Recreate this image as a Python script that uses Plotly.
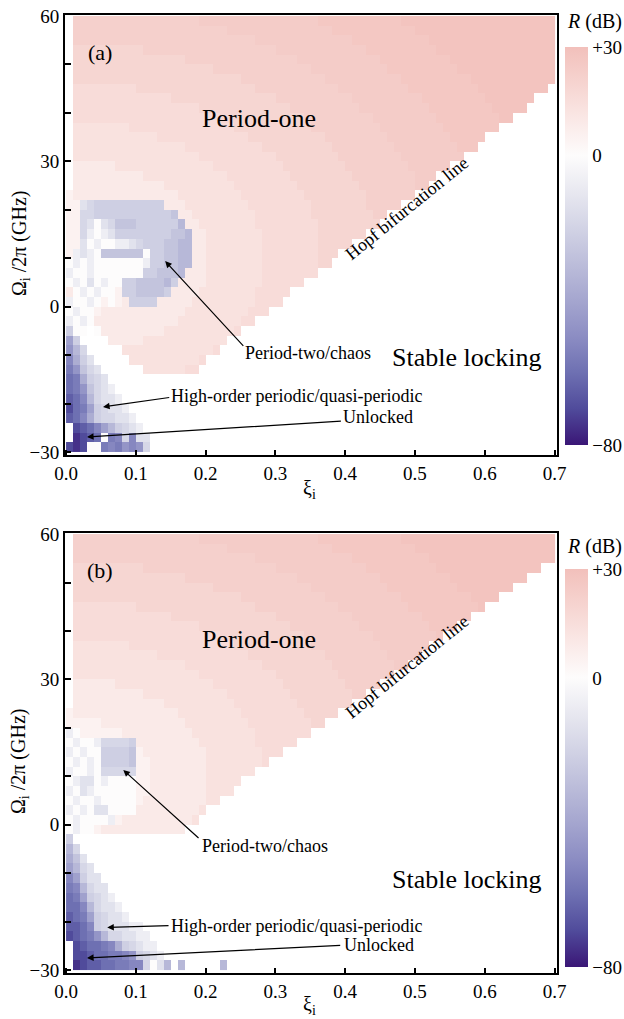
import plotly.graph_objects as go

# ---------------- data ----------------
# cell centres of the map
XI = [round(0.005 + 0.01 * i, 3) for i in range(70)]          # xi_i
OMEGA_TOP_DOWN = [59 - 2 * k for k in range(45)]                # Omega_i/2pi (GHz)

# level codes -> R (dB) ; "." = stable locking (no value)
CODE_DB = {'0': 0, '1': 5, '2': 9, '3': 13, '4': 16, '5': 19, '6': 22, '7': 24,
           '8': 26, '9': 28,
           'a': -7, 'b': -13, 'c': -18, 'd': -22, 'e': -27, 'f': -32, 'g': -37,
           'h': -42, 'i': -47, 'j': -52, 'k': -56, 'l': -60, 'm': -65,
           'n': -70, 'o': -75, 'p': -80}

# rows, top (59 GHz) to bottom (-29 GHz); "x*n" = n cells
ROWS_A = [
    ". 6*18 7*17 8*12 9*22",
    ". 6*22 7*15 8*12 9*20",
    ". 6*26 7*14 8*11 9*18",
    ". 5*10 6*19 7*13 8*10 9*17",
    ". 5*16 6*16 7*12 8*10 9*15",
    ". 5*20 6*14 7*11 8*10 9*14",
    ". 5*24 6*12 7*11 8*10 9*12",
    ". 4*9 5*17 6*12 7*10 8*10 9*10",
    ". 4*14 5*15 6*11 7*10 8*9 9*7",
    ". 4*18 5*13 6*10 7*10 8*9 9*5",
    ". 4*21 5*12 6*10 7*9 8*9 9*2",
    ". 3*8 4*15 5*11 6*10 7*9 8*8",
    ". 3*12 4*13 5*11 6*9 7*9 8*5",
    ". 3*16 4*11 5*10 6*9 7*9 8*3",
    ". 3*18 4*11 5*9 6*9 7*9",
    ". 2*6 3*14 4*10 5*9 6*9 7*6",
    ". 2*10 3*12 4*9 5*9 6*9 7*3",
    ". 2*13 3*10 4*9 5*9 6*8 7*2",
    "1 2*15 3*9 4*9 5*9 6*7",
    "1*2 b c d*10 2*3 3*9 4*9 5*8 6*5",
    "1*2 c*2 d*11 e 2*2 3*9 4*8 5*9 6*2",
    "1*2 c b 0 b c e*3 d*6 f 2*2 3*8 4*9 5*9",
    "1*2 c a 0 a b d*8 e e f 2*2 3*8 4*8 5*7",
    "1*2 b 0 a 0 0 a a b c d*3 e e f f 2*2 3*8 4*8 5*5",
    "1 a b a 0 e*6 0 d d e e f f 2*2 3*8 4*8 5*3",
    "0 a 0 a 0*7 a d d e e f f 2*2 3*8 4*8 5*2",
    "a 0 0 a 0*7 d*2 e*3 f 2*3 3*8 4*8",
    "0 a 0 b 0 a 0 0 d*2 e*4 f d 2*4 3*8 4*6",
    "2 0 a 0 a 0 0 1 d*2 e*4 d 2*4 3*8 4*5",
    "a 0 0 a 0 1 0 1 2 d*4 2*5 3*9 4*4",
    "0 a 0 0 1 2*12 3*9 4*3",
    "a 0 a 0 2*12 3*9 4*2",
    "d 0 0 . 0 2*9 3*10 4",
    "h d .*4 2*5 3*12",
    "i f c .*5 3*13 4",
    "j g d b .*5 3*10 4",
    "k i e c b .*6 3*6 4*2",
    "l k g d c b",
    "l k i e c b a",
    "m l j f c b b a",
    "n l k h d c b b a",
    "m l j g d c c b b a",
    ". n m l j h f d c b a",
    ". o n m l 0 k j c j b b",
    "n o n 0 0 k j k i j i c",
]

# rows
ROWS_B = [
    ". 6*18 7*17 8*12 9*22",
    ". 6*22 7*15 8*12 9*20",
    ". 6*26 7*14 8*11 9*18",
    ". 5*10 6*19 7*13 8*10 9*15",
    ". 5*16 6*16 7*12 8*10 9*11",
    ". 5*20 6*14 7*11 8*10 9*8",
    ". 5*24 6*12 7*11 8*10 9*4",
    ". 4*9 5*17 6*12 7*10 8*10 9",
    ". 4*14 5*15 6*11 7*10 8*7",
    ". 4*18 5*13 6*10 7*10 8*4",
    ". 4*21 5*12 6*10 7*9 8",
    ". 3*8 4*15 5*11 6*10 7*7",
    ". 3*12 4*13 5*11 6*9 7*5",
    ". 3*16 4*11 5*10 6*9 7*2",
    ". 3*18 4*11 5*9 6*8",
    ". 2*6 3*14 4*10 5*9 6*5",
    ". 2*10 3*12 4*9 5*9 6*2",
    ". 2*13 3*10 4*9 5*8",
    "1 2*15 3*9 4*9 5*5",
    "1*5 2*12 3*9 4*9 5*2",
    "a 0 1*6 2*10 3*9 4*8",
    "0 a 0 0 a c*4 d 2*9 3*8 4*6",
    "a 0 a 0 0 d*4 e 1 2*9 3*8 4*3",
    "0 a 0 a 0 d*4 e 1*2 2*8 3*8 4",
    "a 0 0 a 0 c*5 1*2 2*8 3*7",
    "0 a b b 0 a 0*4 1*2 2*8 3*5",
    "a 0 b a 0*6 1*2 2*8 3*4",
    "0 a 0 0 a 0*5 1 2*9 3*2",
    "a 0 a 0 b b 0*4 2*9 3",
    "0 a 0*4 a 1 2*10 3",
    "0 a 0 0 1 2*12",
    "d",
    "f c",
    "g e b",
    "h f c b",
    "j h d b b",
    "k j f c b b",
    "l k h d c b a",
    "l l j f c b b a",
    "m l k h d c b b a",
    "m m l j d c b b b a a",
    "n m l k i f c c b b a a",
    ". n m l l k j g d c b a a",
    ". n n m l l k k j i d c b a",
    ". o n m m l l k k j j c 0 b f . f .*5 f",
]

CBAR_TICKS = [30, 0, -80]
CBAR_TEXT = ['+30', '0', '\u221280']
X_TICKS = [0.0, 0.1, 0.2, 0.3, 0.4, 0.5, 0.6, 0.7]
X_TEXT = ['0.0', '0.1', '0.2', '0.3', '0.4', '0.5', '0.6', '0.7']
Y_TICKS = [-30, -20, -10, 0, 10, 20, 30, 40, 50, 60]
Y_TEXT = ['\u221230', '', '', '0', '', '', '30', '', '', '60']

COLORSCALE = [
    [0.0, 'rgb(58,22,118)'],
    [0.0909, 'rgb(80,75,155)'],
    [0.1818, 'rgb(110,112,178)'],
    [0.2727, 'rgb(140,141,195)'],
    [0.3636, 'rgb(165,166,207)'],
    [0.4545, 'rgb(188,189,218)'],
    [0.5455, 'rgb(210,211,229)'],
    [0.6364, 'rgb(232,232,240)'],
    [0.7273, 'rgb(253,252,252)'],
    [0.8182, 'rgb(250,232,230)'],
    [0.9091, 'rgb(246,212,208)'],
    [1.0, 'rgb(242,192,187)'],
]


def expand(row):
    out = ''
    for tok in row.split():
        if '*' in tok:
            ch, n = tok.split('*')
            out += ch * int(n)
        else:
            out += tok
    out = (out + '.' * 70)[:70]
    return out


def to_z(rows):
    z = [[CODE_DB.get(ch) for ch in expand(r)] for r in rows]
    return z[::-1]


OMEGA = OMEGA_TOP_DOWN[::-1]
FONT = 'Liberation Serif'

fig = go.Figure()

for rows, xa, ya, cy in [(ROWS_A, 'x', 'y', 0.759), (ROWS_B, 'x2', 'y2', 0.2135)]:
    fig.add_trace(go.Heatmap(
        x=XI, y=OMEGA, z=to_z(rows), xaxis=xa, yaxis=ya,
        zmin=-80, zmax=30, colorscale=COLORSCALE, hoverongaps=False,
        colorbar=dict(x=1.0162, xanchor='left', xpad=0, ypad=0,
                      y=cy, yanchor='middle', len=398, lenmode='pixels',
                      thickness=23, outlinewidth=0, ticks='',
                      tickvals=CBAR_TICKS, ticktext=CBAR_TEXT,
                      tickfont=dict(family=FONT, size=19, color='black')),
    ))

axis_common = dict(showline=True, linewidth=2, linecolor='black', mirror=True,
                   showgrid=False, zeroline=False, ticks='inside',
                   tickcolor='black', tickwidth=1.5,
                   tickfont=dict(family=FONT, size=19, color='black'))

fig.update_layout(
    width=624, height=1019,
    margin=dict(l=65, r=66, t=6, b=46),
    paper_bgcolor='white', plot_bgcolor='white',
    showlegend=False,
    xaxis=dict(domain=[0, 1], anchor='y', range=[-0.0015, 0.7035],
               tickvals=X_TICKS, ticktext=X_TEXT, ticklen=5, **axis_common),
    yaxis=dict(domain=[0.5408, 1], anchor='x', range=[-30.6, 60.2],
               tickvals=Y_TICKS, ticktext=Y_TEXT, ticklen=6, **axis_common),
    xaxis2=dict(domain=[0, 1], anchor='y2', range=[-0.0015, 0.7035],
                tickvals=X_TICKS, ticktext=X_TEXT, ticklen=5, **axis_common),
    yaxis2=dict(domain=[0, 0.4592], anchor='x2', range=[-30.6, 60.2],
                tickvals=Y_TICKS, ticktext=Y_TEXT, ticklen=6, **axis_common),
)

ann = []


def txt(x, y, s, size, xr, yr, angle=0, xanchor='center'):
    ann.append(dict(x=x, y=y, xref=xr, yref=yr, text=s, showarrow=False,
                    textangle=angle, xanchor=xanchor, yanchor='middle',
                    font=dict(family=FONT, size=size, color='black')))


def arrow(x, y, ax, ay, xr, yr):
    ann.append(dict(x=x, y=y, ax=ax, ay=ay, xref=xr, yref=yr, axref=xr, ayref=yr,
                    text='', showarrow=True, arrowhead=2, arrowsize=1.1,
                    arrowwidth=1.2, arrowcolor='black', standoff=0, startstandoff=0))


panels = [
    dict(xr='x', yr='y', lab='(a)', p1=38.8, hopf=(0.489, 20.3), p2t=(0.346, -9.6),
         p2a=(0.142, 9.4, 0.256, -8.4), st=(0.574, -10.5), hot=(0.33, -18.4),
         hoa=(0.053, -20.7, 0.150, -18.7), ut=(0.447, -22.7),
         ua=(0.030, -26.9, 0.396, -23.6)),
    dict(xr='x2', yr='y2', lab='(b)', p1=38.3, hopf=(0.488, 32.6), p2t=(0.285, -4.4),
         p2a=(0.082, 11.3, 0.192, -3.0), st=(0.574, -11.2), hot=(0.33, -20.8),
         hoa=(0.059, -21.2, 0.149, -20.8), ut=(0.448, -24.9),
         ua=(0.030, -27.5, 0.395, -24.9)),
]

for p in panels:
    xr, yr = p['xr'], p['yr']
    txt(0.049, 52.4, p['lab'], 22, xr, yr)
    txt(0.276, p['p1'], 'Period-one', 26, xr, yr)
    txt(p['hopf'][0], p['hopf'][1], 'Hopf bifurcation line', 18, xr, yr, angle=-39)
    txt(p['p2t'][0], p['p2t'][1], 'Period-two/chaos', 18, xr, yr)
    arrow(*p['p2a'], xr, yr)
    txt(p['st'][0], p['st'][1], 'Stable locking', 26, xr, yr)
    txt(p['hot'][0], p['hot'][1], 'High-order periodic/quasi-periodic', 18, xr, yr)
    arrow(*p['hoa'], xr, yr)
    txt(p['ut'][0], p['ut'][1], 'Unlocked', 18, xr, yr)
    arrow(*p['ua'], xr, yr)

for ytitle, xtitle, rtitle in [(0.762, 0.5047, 0.9928), (0.2213, -0.0341, 0.4457)]:
    txt(-0.0913, ytitle, '\u03a9<sub>i</sub> /2\u03c0 (GHz)', 20, 'paper', 'paper', angle=-90)
    txt(0.497, xtitle, '\u03be<sub>i</sub>', 20, 'paper', 'paper')
    txt(1.077, rtitle, '<i>R</i> (dB)', 20, 'paper', 'paper')

fig.update_layout(annotations=ann)
fig.write_html('out.html')
